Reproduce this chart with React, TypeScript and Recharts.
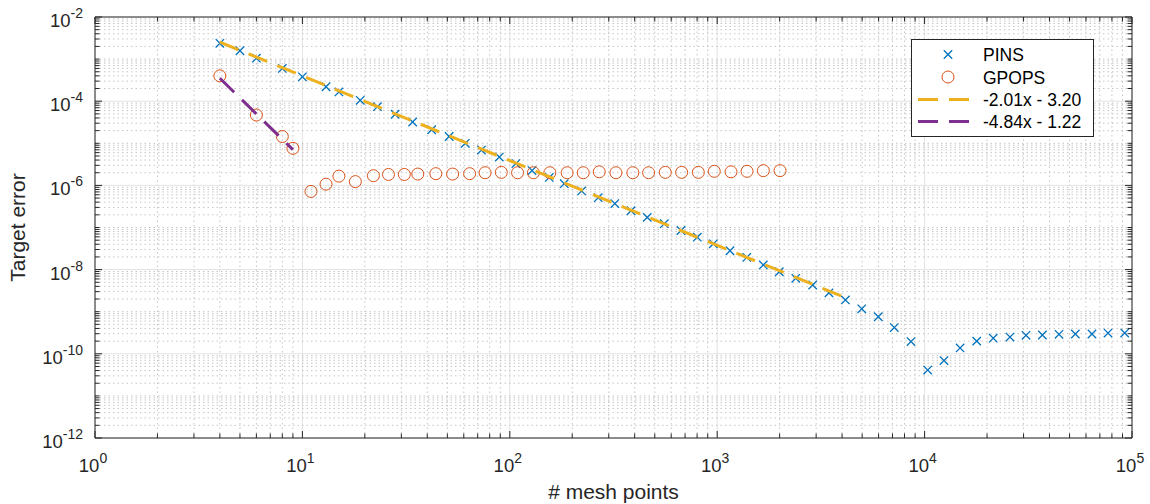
import { ScatterChart, Scatter, XAxis, YAxis, ReferenceLine, Legend } from 'recharts';

const FONT = '"Liberation Sans", Arial, Helvetica, sans-serif';
const INK = '#262626';
const BLUE = '#0072BD';
const ORANGE = '#D95319';
const YELLOW = '#EDB120';
const PURPLE = '#7E2F8E';

// plot box size in px (used to mirror ticks on top / right edge)
const PW = 1037;
const PH = 421;

// PINS run: mesh points vs target error
const pinsN = [
  4, 5, 6, 8, 10, 13, 15, 19, 23, 28, 34, 42, 51, 61, 73, 89, 107, 128, 155, 183,
  222, 267, 321, 384, 460, 556, 669, 802, 958, 1153, 1388, 1668, 1992, 2392, 2887,
  3458, 4150, 4977, 5979, 7145, 8600, 10350, 12400, 14830, 17830, 21430, 25800,
  30830, 36970, 44470, 53300, 64130, 76630, 92220,
];
const pinsErr = [
  2.37e-3, 1.58e-3, 1.05e-3, 6.0e-4, 3.8e-4, 2.2e-4, 1.66e-4, 1.05e-4, 7.4e-5, 4.9e-5,
  3.2e-5, 2.1e-5, 1.45e-5, 1.0e-5, 6.9e-6, 4.7e-6, 3.3e-6, 2.25e-6, 1.55e-6, 1.1e-6,
  7.4e-7, 5.1e-7, 3.7e-7, 2.5e-7, 1.74e-7, 1.23e-7, 8.5e-8, 5.9e-8, 4.1e-8, 2.8e-8,
  1.95e-8, 1.29e-8, 8.9e-9, 6.2e-9, 4.3e-9, 2.8e-9, 1.9e-9, 1.17e-9, 7.6e-10, 4.2e-10,
  1.95e-10, 4.1e-11, 6.9e-11, 1.38e-10, 2.0e-10, 2.35e-10, 2.5e-10, 2.75e-10, 2.8e-10,
  2.9e-10, 2.95e-10, 2.95e-10, 3.1e-10, 3.1e-10,
];

// GPOPS run
const gpopsN = [
  4, 6, 8, 9, 11, 13, 15, 18, 22, 26, 31, 36, 44, 53, 64, 76, 91, 109, 130, 156,
  189, 226, 270, 325, 392, 467, 562, 674, 811, 968, 1166, 1393, 1669, 2009,
];
const gpopsErr = [
  4.0e-4, 4.7e-5, 1.45e-5, 7.6e-6, 7.2e-7, 1.07e-6, 1.66e-6, 1.23e-6, 1.7e-6, 1.82e-6,
  1.82e-6, 1.86e-6, 1.9e-6, 1.86e-6, 1.9e-6, 2.0e-6, 2.04e-6, 2.0e-6, 2.0e-6, 2.0e-6,
  2.0e-6, 2.0e-6, 2.1e-6, 2.0e-6, 2.0e-6, 2.0e-6, 2.04e-6, 2.04e-6, 2.04e-6, 2.16e-6,
  2.1e-6, 2.16e-6, 2.24e-6, 2.24e-6,
];

// fitted lines (end points)
const pinsFitN = [4, 4200];
const pinsFitErr = [2.52e-3, 2.1e-9];
const gpopsFitN = [4, 9];
const gpopsFitErr = [3.5e-4, 7.1e-6];

const seriesNames = ['PINS', 'GPOPS', '-2.01x - 3.20', '-4.84x - 1.22'];

// axis decades
const xDecadeRange = [0, 5];
const yDecadeRange = [-12, -2];
const yLabelled = [-12, -10, -8, -6, -4, -2];

const toPoints = (xs: number[], ys: number[]) => xs.map((x, i) => ({ x, y: ys[i] }));

const logTicks = (lo: number, hi: number) => {
  const t: number[] = [];
  for (let k = lo; k < hi; k++) {
    for (let m = 1; m <= 9; m++) t.push(Number(`${m}e${k}`));
  }
  t.push(Number(`1e${hi}`));
  return t;
};

const decadeOf = (v: number) => {
  const e = Math.round(Math.log10(v));
  return Math.abs(v - Number(`1e${e}`)) < v * 1e-9 ? e : null;
};

const xTicks = logTicks(xDecadeRange[0], xDecadeRange[1]);
const yTicks = logTicks(yDecadeRange[0], yDecadeRange[1]);

const XTick = (props: any) => {
  const { x, y, payload } = props;
  const e = decadeOf(payload.value);
  const len = e !== null ? 7 : 4.5;
  return (
    <g>
      <line x1={x} y1={y} x2={x} y2={y - len} stroke={INK} />
      <line x1={x} y1={y - PH} x2={x} y2={y - PH + len} stroke={INK} />
      {e !== null && (
        <text x={x - 2} y={y + 34} textAnchor="middle" fontFamily={FONT} fontSize={18.5} fill={INK}>
          10
          <tspan dy={-9} fontSize={14}>{e}</tspan>
        </text>
      )}
    </g>
  );
};

const YTick = (props: any) => {
  const { x, y, payload } = props;
  const e = decadeOf(payload.value);
  const labelled = e !== null && yLabelled.includes(e);
  const len = labelled ? 7 : 4.5;
  return (
    <g>
      <line x1={x} y1={y} x2={x + len} y2={y} stroke={INK} />
      <line x1={x + PW} y1={y} x2={x + PW - len} y2={y} stroke={INK} />
      {labelled && (
        <text x={x - 12} y={y + 10} textAnchor="end" fontFamily={FONT} fontSize={18.5} fill={INK}>
          10
          <tspan dy={-9} fontSize={14}>{e}</tspan>
        </text>
      )}
    </g>
  );
};

const Cross = (props: any) => {
  const { cx, cy } = props;
  const r = 4.2;
  return (
    <path
      d={`M${cx - r},${cy - r}L${cx + r},${cy + r}M${cx - r},${cy + r}L${cx + r},${cy - r}`}
      stroke={BLUE}
      strokeWidth={1.3}
      fill="none"
    />
  );
};

const Ring = (props: any) => {
  const { cx, cy } = props;
  return <circle cx={cx} cy={cy} r={6} stroke={ORANGE} strokeWidth={1} fill="none" />;
};

const Nothing = () => <g />;

const LegendBox = () => {
  const rows = [15.5, 38, 60.5, 82.5];
  return (
    <svg width={183} height={98} style={{ display: 'block' }}>
      <rect x={0.5} y={0.5} width={182} height={97} fill="#fff" stroke={INK} />
      <Cross cx={37} cy={rows[0]} />
      <Ring cx={37} cy={rows[1]} />
      <line x1={7} y1={rows[2]} x2={58} y2={rows[2]} stroke={YELLOW} strokeWidth={3} strokeDasharray="20 11" />
      <line x1={7} y1={rows[3]} x2={58} y2={rows[3]} stroke={PURPLE} strokeWidth={3} strokeDasharray="20 11" />
      {seriesNames.map((name, i) => (
        <text key={name} x={72} y={rows[i] + 6.5} fontFamily={FONT} fontSize={17.5} fill="#000">
          {name}
        </text>
      ))}
    </svg>
  );
};

const xTitle = () => (
  <text x={613.5} y={499} textAnchor="middle" fontFamily={FONT} fontSize={21} fill={INK}>
    # mesh points
  </text>
);

const yTitle = () => (
  <text
    x={24.5}
    y={227.5}
    transform="rotate(-90 24.5 227.5)"
    textAnchor="middle"
    fontFamily={FONT}
    fontSize={21}
    fill={INK}
  >
    Target error
  </text>
);

export default function App() {
  return (
    <div style={{ position: 'absolute', left: 0, top: 0 }}>
      <ScatterChart width={1150} height={504} margin={{ top: 17, right: 18, bottom: 0, left: 0 }}>
        <XAxis
          type="number"
          dataKey="x"
          scale="log"
          domain={[1, 1e5]}
          ticks={xTicks}
          interval={0}
          tick={<XTick />}
          tickLine={false}
          tickSize={0}
          tickMargin={0}
          axisLine={{ stroke: INK }}
          height={66}
          allowDataOverflow
          label={xTitle}
        />
        <YAxis
          type="number"
          dataKey="y"
          scale="log"
          domain={[1e-12, 1e-2]}
          ticks={yTicks}
          interval={0}
          tick={<YTick />}
          tickLine={false}
          tickSize={0}
          tickMargin={0}
          axisLine={{ stroke: INK }}
          width={95}
          allowDataOverflow
          label={yTitle}
        />

        {xTicks.map((v) => (
          <ReferenceLine
            key={`gx${v}`}
            x={v}
            stroke={decadeOf(v) !== null ? '#e3e3e3' : '#c6c6c6'}
            strokeDasharray={decadeOf(v) !== null ? undefined : '1.5 3'}
          />
        ))}
        {yTicks.map((v) => {
          const e = decadeOf(v);
          const major = e !== null && yLabelled.includes(e);
          return (
            <ReferenceLine
              key={`gy${v}`}
              y={v}
              stroke={major ? '#e3e3e3' : '#c6c6c6'}
              strokeDasharray={major ? undefined : '1.5 3'}
            />
          );
        })}
        <ReferenceLine y={1e-2} stroke={INK} />
        <ReferenceLine x={1e5} stroke={INK} />

        <Scatter name={seriesNames[0]} data={toPoints(pinsN, pinsErr)} shape={<Cross />} isAnimationActive={false} />
        <Scatter name={seriesNames[1]} data={toPoints(gpopsN, gpopsErr)} shape={<Ring />} isAnimationActive={false} />
        <Scatter
          name={seriesNames[2]}
          data={toPoints(pinsFitN, pinsFitErr)}
          shape={<Nothing />}
          line={{ stroke: YELLOW, strokeWidth: 3, strokeDasharray: '20 11' }}
          isAnimationActive={false}
        />
        <Scatter
          name={seriesNames[3]}
          data={toPoints(gpopsFitN, gpopsFitErr)}
          shape={<Nothing />}
          line={{ stroke: PURPLE, strokeWidth: 3, strokeDasharray: '20 11' }}
          isAnimationActive={false}
        />

        <Legend
          layout="vertical"
          align="center"
          verticalAlign="middle"
          content={<LegendBox />}
          wrapperStyle={{ left: 911, top: 39, width: 183, height: 98 }}
        />
      </ScatterChart>
    </div>
  );
}
